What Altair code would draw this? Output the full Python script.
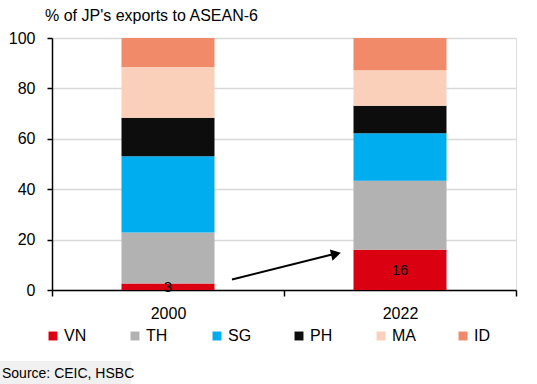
import altair as alt
import pandas as pd

# Share of Japan's exports to ASEAN-6 by destination (%)
years = ["2000", "2022"]
countries = ["VN", "TH", "SG", "PH", "MA", "ID"]
colors = ["#db0011", "#b2b2b2", "#00adef", "#0d0d0d", "#fbd0bb", "#f08a68"]
share_2000 = [2.6, 20.2, 30.3, 15.3, 20.1, 11.5]
share_2022 = [16.0, 27.4, 18.8, 10.9, 14.1, 12.8]

# VN value labels
vn_labels = ["3", "16"]

rows = []
for year, shares in zip(years, [share_2000, share_2022]):
    for i, (c, v) in enumerate(zip(countries, shares)):
        rows.append({"year": year, "country": c, "share": v, "idx": i})
df = pd.DataFrame(rows)

label_df = pd.DataFrame({
    "year": years,
    "mid": [share_2000[0] / 2, share_2022[0] / 2],
    "text": vn_labels,
})

# Arrow from the 2000 VN share to the 2022 VN share
arrow_df = pd.DataFrame({"from_year": ["2000"], "to_year": ["2022"],
                         "y_from": [4.2], "y_to": [14.3]})

W, H = 464, 252
FONT = "Liberation Sans"

x_scale = alt.Scale(domain=years, paddingInner=0, paddingOuter=0)
y_scale = alt.Scale(domain=[0, 100])

bars = alt.Chart(df).mark_bar(width=93).encode(
    x=alt.X("year:N", scale=x_scale, sort=years,
            axis=alt.Axis(title=None, labelAngle=0, labelFontSize=16,
                          labelColor="black", labelFont=FONT,
                          tickBand="extent", tickColor="black", tickSize=6,
                          tickWidth=1.5, domainColor="black", domainWidth=1.5,
                          labelPadding=9, grid=False)),
    y=alt.Y("share:Q", scale=y_scale, stack="zero",
            axis=alt.Axis(title=None, values=[0, 20, 40, 60, 80, 100],
                          labelFontSize=16, labelColor="black", labelFont=FONT,
                          tickColor="black", tickSize=5, tickWidth=1.5,
                          domainColor="black", domainWidth=1.5,
                          labelPadding=12, grid=True, gridColor="#d9d9d9",
                          gridWidth=1.5)),
    color=alt.Color("country:N", scale=alt.Scale(domain=countries, range=colors),
                    sort=countries,
                    legend=alt.Legend(title=None, orient="none", direction="horizontal",
                                      columns=6, legendX=-7, legendY=290,
                                      symbolType="square", symbolSize=80,
                                      symbolStrokeWidth=0, labelFontSize=16,
                                      labelFont=FONT, labelColor="black",
                                      labelOffset=3, columnPadding=39,
                                      gridAlign="all")),
    order=alt.Order("idx:Q", sort="ascending"),
)

vn_text = alt.Chart(label_df).mark_text(fontSize=15, font=FONT, color="black",
                                        baseline="middle").encode(
    x=alt.X("year:N", scale=x_scale, sort=years),
    y=alt.Y("mid:Q", scale=y_scale),
    text="text:N",
)

arrow_line = alt.Chart(arrow_df).mark_rule(color="black", strokeWidth=2,
                                           xOffset=64, x2Offset=-66).encode(
    x=alt.X("from_year:N", scale=x_scale, sort=years),
    x2="to_year:N",
    y=alt.Y("y_from:Q", scale=y_scale),
    y2="y_to:Q",
)

arrow_head = alt.Chart(arrow_df).mark_point(shape="triangle-right", filled=True,
                                            color="black", size=130, opacity=1,
                                            angle=346.7, xOffset=-64).encode(
    x=alt.X("to_year:N", scale=x_scale, sort=years),
    y=alt.Y("y_to:Q", scale=y_scale),
)

title_text = alt.Chart(pd.DataFrame({"t": ["% of JP's exports to ASEAN-6"]})).mark_text(
    align="left", baseline="alphabetic", fontSize=16, font=FONT, color="black"
).encode(x=alt.value(-7), y=alt.value(-17), text="t:N")

source_bg = alt.Chart(pd.DataFrame({"a": [0]})).mark_rect(color="#f0f0f0").encode(
    x=alt.value(-52), x2=alt.value(79), y=alt.value(323), y2=alt.value(346)
)

source_text = alt.Chart(pd.DataFrame({"t": ["Source: CEIC, HSBC"]})).mark_text(
    align="left", baseline="alphabetic", fontSize=14, font=FONT, color="black"
).encode(x=alt.value(-50), y=alt.value(340), text="t:N")

chart = alt.layer(
    bars, vn_text, arrow_line, arrow_head, title_text, source_bg, source_text
).properties(
    width=W, height=H,
    autosize=alt.AutoSizeParams(type="none"),
    padding={"left": 52, "top": 38, "right": 21, "bottom": 94},
).configure_view(stroke=None).configure(background="white")

chart.save("out.html", embed_options={"renderer": "svg", "actions": False})
